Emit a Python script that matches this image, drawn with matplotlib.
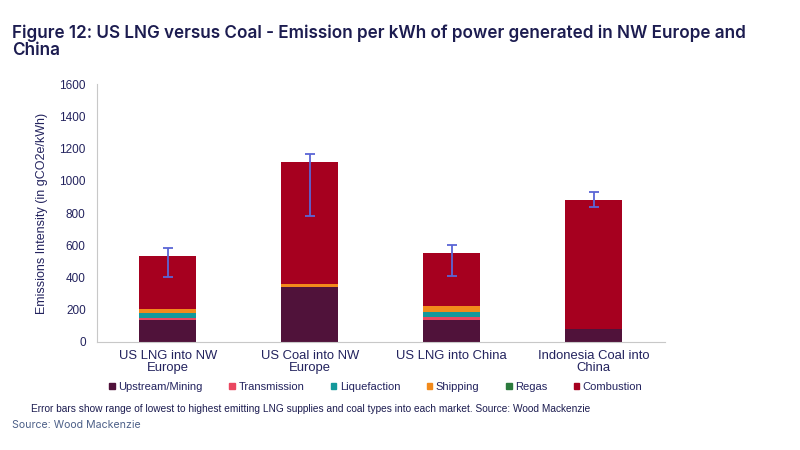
import numpy as np
import matplotlib.pyplot as plt
from matplotlib.patches import Patch

categories = ["US LNG into NW\nEurope", "US Coal into NW\nEurope",
              "US LNG into China", "Indonesia Coal into\nChina"]
stages = ["Upstream/Mining", "Transmission", "Liquefaction",
          "Shipping", "Regas", "Combustion"]
upstream = [136, 343, 136, 78]
transmission = [15, 0, 17, 3]
liquefaction = [30, 0, 35, 0]
shipping = [22, 15, 35, 0]
regas = [2, 0, 2, 0]
combustion = [328, 760, 327, 799]
err_low = [405, 783, 408, 839]
err_high = [583, 1168, 601, 928]

colors = ["#50123a", "#ea4760", "#14999b", "#f28a1b", "#2b7a3d", "#a6001f"]
navy = "#23235e"

series = [upstream, transmission, liquefaction, shipping, regas, combustion]

fig = plt.figure(figsize=(8, 4.5), dpi=100)
ax = fig.add_axes([0.121, 0.24, 0.71, 0.573])

x = np.arange(len(categories))
bottom = np.zeros(len(categories))
for vals, col in zip(series, colors):
    ax.bar(x, vals, 0.4, bottom=bottom, color=col)
    bottom += np.array(vals)

# error bars
ax.vlines(x, err_low, err_high, color="#5a66d6", lw=1.3)
ax.hlines(err_low, x - 0.035, x + 0.035, color="#5a66d6", lw=1.3)
ax.hlines(err_high, x - 0.035, x + 0.035, color="#5a66d6", lw=1.3)

ax.set_xlim(-0.5, 3.5)
ax.set_ylim(0, 1600)
ax.set_yticks(range(0, 1601, 200))
ax.set_xticks(x)
ax.set_xticklabels(categories, fontsize=9.4, color=navy, family="Liberation Sans",
                   linespacing=1.0)
ax.tick_params(axis="both", length=0, pad=6)
ax.tick_params(axis="y", labelsize=8.5, labelcolor=navy, pad=8)
for lab in ax.get_yticklabels():
    lab.set_family("Liberation Sans")
for s in ["top", "right"]:
    ax.spines[s].set_visible(False)
for s in ["left", "bottom"]:
    ax.spines[s].set_color("#c8c8c8")
ax.set_ylabel("Emissions Intensity (in gCO2e/kWh)", fontsize=9, color=navy,
              family="Liberation Sans", labelpad=8)

handles = [Patch(color=c, label=s) for s, c in zip(stages, colors)]
fig.legend(handles=handles, loc="center", bbox_to_anchor=(0.47, 0.14), ncol=6,
           frameon=False, handlelength=0.5, handleheight=0.5, handletextpad=0.3,
           columnspacing=2.4, prop={"family": "Liberation Sans", "size": 8},
           labelcolor=navy)

fig.text(0.015, 0.945, "Figure 12: US LNG versus Coal - Emission per kWh of power generated in NW Europe and\nChina",
         fontsize=12.3, fontweight="semibold", color="#1c1c50", family="Inter",
         va="top", linespacing=1.0)
fig.text(0.039, 0.091, "Error bars show range of lowest to highest emitting LNG supplies and coal types into each market. Source: Wood Mackenzie",
         fontsize=7.3, color="#1c1c50", family="Liberation Sans", va="center")
fig.text(0.015, 0.055, "Source: Wood Mackenzie", fontsize=7.6, color="#4d6088",
         family="Inter", va="center")

fig.savefig("out.png", dpi=100)
